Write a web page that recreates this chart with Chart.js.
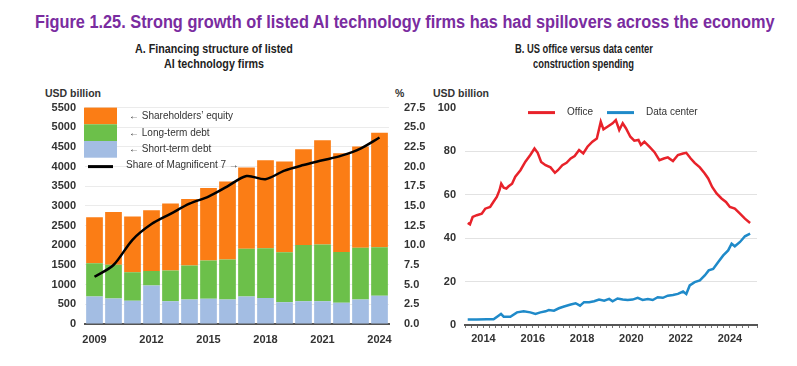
<!DOCTYPE html>
<html>
<head>
<meta charset="utf-8">
<script src="https://cdn.jsdelivr.net/npm/chart.js@4.4.1/dist/chart.umd.min.js"></script>
<style>
  body { margin: 0; background: #fff; width: 797px; height: 366px; position: relative; overflow: hidden;
         font-family: "Liberation Sans", Arial, sans-serif; }
  .t { position: absolute; white-space: nowrap; transform-origin: 0 50%; }
  #title { font-size: 18px; font-weight: bold; color: #7a2ca0; }
  .sub { font-size: 13.5px; font-weight: bold; color: #222; }
  .unit { font-size: 10.5px; font-weight: bold; color: #333; }
  canvas { position: absolute; }
</style>
</head>
<body>
<div id="title" class="t fit" data-cx="405" data-cy="22" data-w="740">Figure 1.25. Strong growth of listed AI technology firms has had spillovers across the economy</div>
<div class="t sub fit" data-cx="214" data-cy="48" data-w="158" data-group="a">A. Financing structure of listed</div>
<div class="t sub fit" data-cx="214" data-cy="63" data-group="a">AI technology firms</div>
<div class="t sub fit" data-cx="584" data-cy="48" data-w="138" data-group="b">B. US office versus data center</div>
<div class="t sub fit" data-cx="584" data-cy="63" data-group="b">construction spending</div>
<div class="t unit" style="left:45px; top:87px;">USD billion</div>
<div class="t unit" style="left:395px; top:87px;">%</div>
<div class="t unit" style="left:433px; top:87px;">USD billion</div>

<canvas id="financing" width="390" height="257" style="left:40px; top:92px;"></canvas>
<canvas id="construction" width="350" height="257" style="left:420px; top:92px;"></canvas>

<script>
// Panel A: financing structure (USD billion) and share of Magnificent 7 (%)
const years = ['2009','2010','2011','2012','2013','2014','2015','2016','2017','2018','2019','2020','2021','2022','2023','2024'];
const shortTermDebt = [700, 650, 590, 980, 580, 620, 640, 620, 700, 660, 550, 580, 580, 540, 620, 720];
const longTermDebt = [845, 855, 725, 365, 780, 865, 975, 1020, 1210, 1265, 1275, 1425, 1440, 1290, 1315, 1230];
const equity = [1170, 1340, 1420, 1545, 1700, 1695, 1840, 1980, 2065, 2235, 2305, 2435, 2650, 2510, 2575, 2910];
const mag7Share = [6.0, 7.5, 10.7, 12.7, 14.0, 15.3, 16.2, 17.5, 18.8, 18.4, 19.5, 20.2, 20.8, 21.4, 22.3, 23.7];

// Panel B: US construction spending (USD billion), dates as decimal years
const officeDates = [2013.36,2013.45,2013.56,2013.73,2013.93,2014.07,2014.27,2014.40,2014.54,2014.65,2014.72,2014.82,2014.93,
  2015.02,2015.16,2015.29,2015.50,2015.70,2015.90,2016.07,2016.20,2016.34,2016.52,2016.72,2016.90,2017.02,2017.20,2017.37,
  2017.54,2017.70,2017.88,2018.05,2018.22,2018.42,2018.60,2018.76,2018.87,2019.03,2019.24,2019.37,2019.51,2019.65,2019.78,
  2019.96,2020.12,2020.29,2020.39,2020.53,2020.73,2020.94,2021.14,2021.32,2021.48,2021.69,2021.89,2022.10,2022.23,2022.41,
  2022.57,2022.78,2022.98,2023.12,2023.28,2023.46,2023.66,2023.84,2024.00,2024.20,2024.41,2024.61,2024.82];
const officeValues = [46.9,46.3,49.7,50.5,51.2,53.5,54.3,56.6,58.9,62.0,65.0,63.2,62.8,
  63.8,65.0,68.2,71.2,75.1,78.2,81.2,79.2,75.0,73.5,72.5,70.0,71.2,73.5,74.6,
  76.6,77.7,80.5,78.9,82.0,84.3,85.8,93.5,90.0,91.2,92.8,94.3,89.7,92.8,90.5,
  86.6,84.8,85.1,82.8,84.3,82.0,79.5,75.8,76.6,77.1,75.4,78.2,78.9,79.2,76.6,
  74.6,72.5,69.7,67.4,63.5,60.5,58.2,56.6,54.3,53.5,51.2,48.9,46.9];
const dataCenterDates = [2013.36,2013.73,2014.14,2014.41,2014.61,2014.71,2014.82,2015.09,2015.36,2015.63,2015.90,
  2016.11,2016.31,2016.52,2016.65,2016.86,2017.06,2017.27,2017.54,2017.74,2017.92,2018.08,2018.29,2018.49,2018.69,
  2018.90,2019.10,2019.24,2019.44,2019.65,2019.85,2020.05,2020.26,2020.46,2020.67,2020.87,2021.07,2021.28,2021.48,
  2021.69,2021.89,2022.10,2022.23,2022.37,2022.57,2022.78,2022.98,2023.14,2023.32,2023.52,2023.73,2023.93,2024.07,
  2024.20,2024.41,2024.61,2024.82];
const dataCenterValues = [2.5,2.5,2.6,2.6,4.3,5.1,3.8,3.8,5.8,6.3,5.8,
  5.1,5.8,6.3,6.9,6.6,7.7,8.5,9.4,10.0,8.9,10.5,10.5,10.9,11.7,
  11.2,12.0,10.9,12.2,11.7,11.5,11.7,12.5,11.5,12.0,11.5,12.8,12.5,13.5,
  13.8,14.3,15.4,14.3,18.2,19.7,20.5,22.8,25.1,25.8,28.9,32.0,34.3,37.4,
  36.2,38.2,40.8,42.0];

// squeeze the headings horizontally, the original uses a narrow typeface
const groupScale = {};
document.querySelectorAll('.fit').forEach(el => {
  const g = el.dataset.group || el.id;
  if (el.dataset.w) groupScale[g] = Number(el.dataset.w) / el.offsetWidth;
  const s = groupScale[g];
  el.style.left = (Number(el.dataset.cx) - el.offsetWidth * s / 2) + 'px';
  el.style.top = (Number(el.dataset.cy) - el.offsetHeight / 2) + 'px';
  el.style.transform = 'scaleX(' + s + ')';
});

const tickFont = { family: 'Liberation Sans, Arial, sans-serif', size: 11, weight: 'bold' };
const tickColor = '#333';

const orange = '#fb7d15';
const green = '#6cc04a';
const blue = '#a3bde3';

// legend for panel A: stacked colour boxes plus text with axis arrows
const financingLegend = {
  id: 'financingLegend',
  afterDraw(chart) {
    const ctx = chart.ctx;
    const x = chart.chartArea.left - 1;
    const y = chart.chartArea.top;
    const items = [
      { color: orange, text: '\u2190 Shareholders\u2019 equity' },
      { color: green, text: '\u2190 Long-term debt' },
      { color: blue, text: '\u2190 Short-term debt' }
    ];
    ctx.save();
    ctx.font = '10px Liberation Sans, Arial, sans-serif';
    ctx.textBaseline = 'middle';
    items.forEach((it, i) => {
      ctx.fillStyle = it.color;
      ctx.fillRect(x, y + i * 16.7, 33, 16.7);
      ctx.fillStyle = '#333';
      ctx.fillText(it.text, x + 45, y + i * 16.7 + 8.5);
    });
    ctx.strokeStyle = '#000';
    ctx.lineWidth = 3;
    ctx.beginPath();
    ctx.moveTo(x + 4, y + 59);
    ctx.lineTo(x + 29, y + 59);
    ctx.stroke();
    ctx.fillStyle = '#333';
    ctx.fillText('Share of Magnificent 7 \u2192', x + 42, y + 58);
    ctx.restore();
  }
};

new Chart(document.getElementById('financing').getContext('2d'), {
  data: {
    labels: years,
    datasets: [
      { type: 'line', label: 'Share of Magnificent 7', data: mag7Share, yAxisID: 'y1',
        borderColor: '#000', borderWidth: 2.5, pointRadius: 0, tension: 0.3, order: 0 },
      { type: 'bar', label: 'Short-term debt', data: shortTermDebt, backgroundColor: blue, stack: 's', order: 1 },
      { type: 'bar', label: 'Long-term debt', data: longTermDebt, backgroundColor: green, stack: 's', order: 1 },
      { type: 'bar', label: "Shareholders' equity", data: equity, backgroundColor: orange, stack: 's', order: 1 }
    ]
  },
  options: {
    responsive: false,
    animation: false,
    layout: { padding: { top: 0 } },
    datasets: { bar: { barPercentage: 1, categoryPercentage: 0.88 } },
    plugins: { legend: { display: false }, tooltip: { enabled: false } },
    scales: {
      x: {
        stacked: true,
        grid: { display: false, drawTicks: false },
        border: { display: true, color: '#555', width: 2 },
        ticks: { font: tickFont, color: tickColor, autoSkip: false, maxRotation: 0, padding: 9,
                 callback: (v, i) => (i % 3 === 0 ? years[i] : '') },
        afterFit: s => { s.height = 25; }
      },
      y: {
        stacked: true,
        min: 0, max: 5500,
        z: 1,
        ticks: { stepSize: 500, font: tickFont, color: tickColor, padding: 9, callback: v => String(v) },
        grid: { color: 'rgba(225,225,225,0.65)', drawTicks: false },
        border: { display: false },
        afterFit: s => { s.width = 45; }
      },
      y1: {
        position: 'right',
        min: 0, max: 27.5,
        ticks: { stepSize: 2.5, font: tickFont, color: tickColor, padding: 7, callback: v => v.toFixed(1) },
        grid: { display: false },
        border: { display: false },
        afterFit: s => { s.width = 41; }
      }
    }
  },
  plugins: [financingLegend]
});

// legend for panel B: line swatches at top of plot
const constructionLegend = {
  id: 'constructionLegend',
  afterDraw(chart) {
    const ctx = chart.ctx;
    const y = chart.chartArea.top + 5;
    const items = [
      { color: '#e8222a', text: 'Office', x: 108 },
      { color: '#1f8ac9', text: 'Data center', x: 187 }
    ];
    ctx.save();
    ctx.font = '10px Liberation Sans, Arial, sans-serif';
    ctx.textBaseline = 'middle';
    items.forEach(it => {
      ctx.strokeStyle = it.color;
      ctx.lineWidth = 3;
      ctx.beginPath();
      ctx.moveTo(it.x, y);
      ctx.lineTo(it.x + 27, y);
      ctx.stroke();
      ctx.fillStyle = '#333';
      ctx.fillText(it.text, it.x + 39, y);
    });
    ctx.restore();
  }
};

new Chart(document.getElementById('construction').getContext('2d'), {
  type: 'line',
  data: {
    datasets: [
      { label: 'Office', data: officeDates.map((d, i) => ({ x: d, y: officeValues[i] })),
        borderColor: '#e8222a', borderWidth: 2.5, pointRadius: 0, tension: 0 },
      { label: 'Data center', data: dataCenterDates.map((d, i) => ({ x: d, y: dataCenterValues[i] })),
        borderColor: '#1f8ac9', borderWidth: 2.5, pointRadius: 0, tension: 0 }
    ]
  },
  options: {
    responsive: false,
    animation: false,
    layout: { padding: { top: 3, right: 13 } },
    plugins: { legend: { display: false }, tooltip: { enabled: false } },
    scales: {
      x: {
        type: 'linear',
        min: 2013.25, max: 2025.1,
        ticks: { stepSize: 0.25, autoSkip: false, maxRotation: 0, font: tickFont, color: tickColor, padding: 4,
                 callback: v => {
                   const r = Math.round(v);
                   return Math.abs(v - r) < 0.01 && r % 2 === 0 ? String(r) : '';
                 } },
        grid: { drawOnChartArea: false, drawTicks: true, tickLength: 3, color: '#777' },
        border: { display: true, color: '#555', width: 2 },
        afterFit: s => { s.height = 24; }
      },
      y: {
        min: 0, max: 100,
        ticks: { stepSize: 20, font: tickFont, color: tickColor, padding: 9 },
        grid: { drawTicks: false, color: c => (c.tick.value === 100 || c.tick.value === 0 ? 'rgba(0,0,0,0)' : '#e2e2e2') },
        border: { display: false },
        afterFit: s => { s.width = 45; }
      }
    }
  },
  plugins: [constructionLegend]
});
</script>
</body>
</html>
